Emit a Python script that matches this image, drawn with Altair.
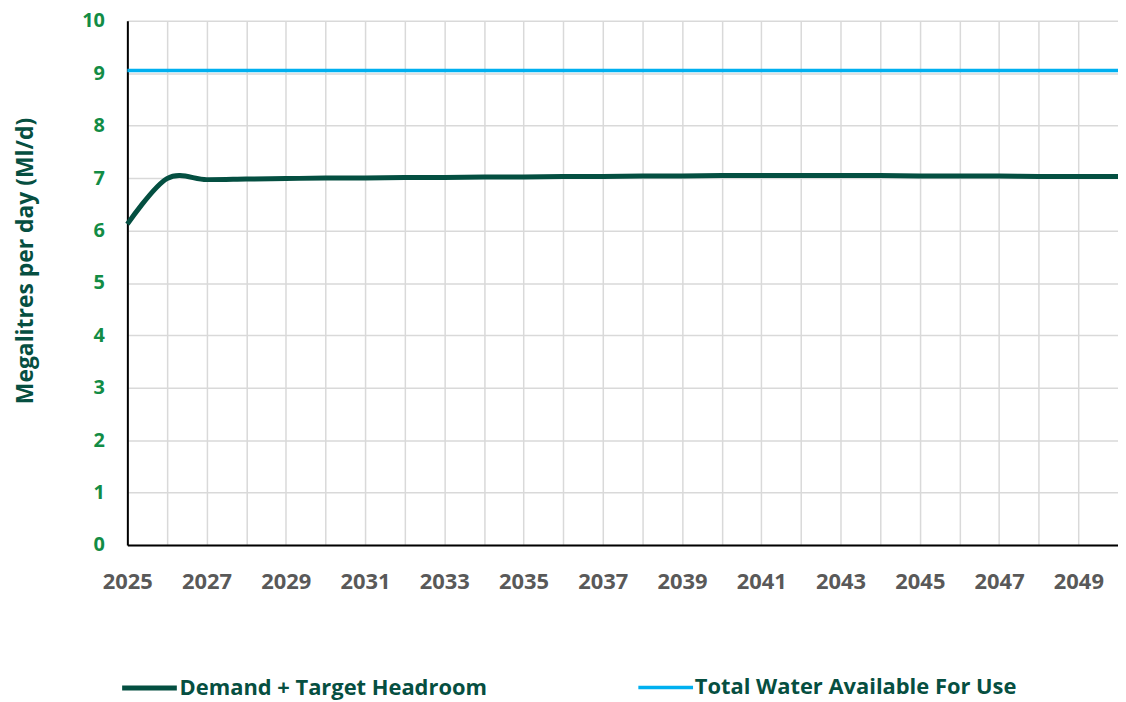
import altair as alt
import pandas as pd

years = list(range(2025, 2051))
demand = [6.12, 6.99, 6.97, 6.98, 6.99, 7.00, 7.00, 7.01, 7.01, 7.02, 7.02, 7.03, 7.03,
          7.04, 7.04, 7.05, 7.05, 7.05, 7.05, 7.05, 7.04, 7.04, 7.04, 7.03, 7.03, 7.03]
available = [9.05] * len(years)
series_names = ["Demand + Target Headroom", "Total Water Available For Use"]
series_colors = ["#044F41", "#00B0F0"]
series_widths = [5, 3.5]

rows = []
for y, d, a in zip(years, demand, available):
    rows.append({"year": y, "value": d, "series": series_names[0]})
    rows.append({"year": y, "value": a, "series": series_names[1]})
df = pd.DataFrame(rows)

FONT = "Open Sans"

chart = alt.Chart(df).mark_line(interpolate="cardinal", tension=0).encode(
    x=alt.X("year:Q",
            scale=alt.Scale(domain=[2025, 2050], nice=False, zero=False),
            axis=alt.Axis(values=list(range(2025, 2050)),
                          labelExpr="datum.value % 2 == 1 ? datum.label : ''",
                          format="d", title=None, labelFont=FONT, labelFontSize=22,
                          labelFontWeight="bold", labelColor="#595959",
                          labelPadding=27, ticks=False, domainColor="#000000",
                          domainWidth=2, gridColor="#D9D9D9", gridWidth=1.5,
                          labelFlush=False)),
    y=alt.Y("value:Q",
            scale=alt.Scale(domain=[0, 10], nice=False),
            axis=alt.Axis(values=list(range(0, 11)), title="Megalitres per day (Ml/d)",
                          titleFont=FONT, titleFontSize=23, titleFontWeight="bold",
                          titleColor="#064F41", titleX=-90, titleY=241,
                          labelFont=FONT, labelFontSize=20, labelFontWeight="bold",
                          labelColor="#128C45", labelPadding=23, ticks=False,
                          domainColor="#000000", domainWidth=2,
                          gridColor="#D9D9D9", gridWidth=1.5)),
    color=alt.Color("series:N",
                    scale=alt.Scale(domain=series_names, range=series_colors),
                    legend=alt.Legend(title=None, orient="none", legendX=5.75, legendY=654,
                                      direction="horizontal", symbolType="M-2,0H2",
                                      symbolSize=756, symbolStrokeWidth=5,
                                      labelFont=FONT, labelFontSize=22,
                                      labelFontWeight="bold", labelColor="#064F41",
                                      labelOffset=13.75, columnPadding=145, labelLimit=400)),
    strokeWidth=alt.StrokeWidth("series:N",
                                scale=alt.Scale(domain=series_names, range=series_widths),
                                legend=None),
).properties(
    width=996, height=527,
    autosize=alt.AutoSizeParams(type="none"),
    padding={"left": 120, "top": 11, "right": 0, "bottom": 155},
).configure_view(stroke=None)

chart.save("out.html", embed_options={"renderer": "svg", "actions": False})
